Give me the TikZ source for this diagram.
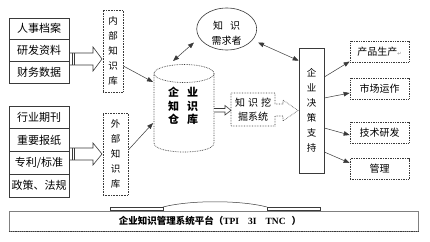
\documentclass[tikz,border=0pt]{standalone}
\usepackage{fontspec}
\setmainfont{Noto Sans CJK SC}
\newfontfamily\latinserif{Liberation Serif}
\newfontfamily\symfont{DejaVu Sans}
\usetikzlibrary{arrows.meta,shapes.geometric}
\definecolor{linec}{HTML}{3A3A3A}
\tikzset{
  lbox/.style={draw=linec, line width=0.6pt, minimum width=60pt, minimum height=21.67pt, inner sep=0pt, font=\fontsize{11}{11}\selectfont},
  lbox2/.style={lbox, minimum height=22.75pt},
  vbox/.style={draw=linec, densely dotted, line width=0.6pt, inner sep=0pt, align=center, font=\fontsize{9.5}{15}\selectfont},
  rbox/.style={draw=linec, densely dotted, line width=0.7pt, minimum width=59pt, minimum height=21pt, inner sep=0pt, font=\fontsize{10}{10}\selectfont},
  conn/.style={draw=linec, line width=0.5pt, -{Triangle[length=6pt,width=4.5pt]}},
  dconn/.style={draw=linec, line width=0.5pt, {Triangle[length=6pt,width=4.5pt]}-{Triangle[length=6pt,width=4.5pt]}},
  hollow/.style={draw=linec, line width=0.6pt, fill=white},
}
\begin{document}
\begin{tikzpicture}[x=1pt,y=-1pt]
\useasboundingbox (0,0) rectangle (430,241);
\fill[white] (0,0) rectangle (430,241);

% left stacked boxes
\node[lbox] (a1) at (39,28.8) {人事档案};
\node[lbox] (a2) at (39,50.5) {研发资料};
\node[lbox] (a3) at (39,72.2) {财务数据};
\node[lbox2] (b1) at (39,117.4) {行业期刊};
\node[lbox2] (b2) at (39,140.1) {重要报纸};
\node[lbox2] (b3) at (39,162.9) {专利/标准};
\node[lbox2] (b4) at (39,185.6) {政策、法规};

% hollow arrows to knowledge bases
\draw[hollow] (70,53) -- (93,53) -- (93,47) -- (102,59) -- (93,71) -- (93,65) -- (70,65);
\draw[linec, line width=0.5pt] (72.5,53) -- (72.5,65) (74.5,53) -- (74.5,65);
\draw[hollow] (70,148) -- (93,148) -- (93,143) -- (102,154) -- (93,165) -- (93,160) -- (70,160);
\draw[linec, line width=0.5pt] (72.5,148) -- (72.5,160) (74.5,148) -- (74.5,160);

% knowledge bases
\node[vbox, minimum width=20pt, minimum height=82pt] (inbox) at (113,51) {内\\部\\知\\识\\库};
\node[vbox, minimum width=25pt, minimum height=82pt] (outbox) at (115.5,154) {外\\部\\知\\识\\库};

% cylinder
\draw[linec, densely dotted, line width=0.7pt, fill=white] (154,73.5) -- (154,143) .. controls (154,155) and (214,155) .. (214,143) -- (214,73.5);
\draw[linec, densely dotted, line width=0.7pt] (184,73.5) ellipse [x radius=30, y radius=9];
\node[align=center, inner sep=0pt, font=\bfseries\fontsize{11}{13.5}\selectfont] (cyl) at (183,106) {企\hspace{8pt}业\\知\hspace{8pt}识\\仓\hspace{8pt}库};
\coordinate (cA) at (153,82);
\coordinate (cB) at (153,123);
\coordinate (cT) at (173,61);

% knowledge requester ellipse
\node[ellipse, draw=linec, line width=0.6pt, minimum width=60pt, minimum height=42pt, inner sep=0pt,
  label={[align=center, font=\fontsize{10}{14.5}\selectfont, yshift=-4pt]center:知\hspace{7pt}识\\需求者}] (need) at (226.7,29) {};
\coordinate (nL) at (194,42.5);
\coordinate (nR) at (258,42.5);

% mining system
\draw[hollow] (214,108.5) -- (225,108.5) -- (225,105.5) -- (231,110.3) -- (225,115) -- (225,112) -- (214,112);
\draw[linec, line width=0.6pt, densely dotted] (231,93) -- (275,93) -- (275,104) -- (283,104) -- (283,100) -- (298,110.5) -- (283,121) -- (283,116) -- (275,116) -- (275,126) -- (231,126) -- cycle;
\node[align=center, inner sep=0pt, font=\fontsize{10}{14}\selectfont] (mine) at (253,110) {知\hspace{3pt}识\hspace{3pt}挖\\掘系统};

% decision support
\node[draw=linec, line width=0.6pt, minimum width=25pt, minimum height=125pt, inner sep=0pt, align=center,
  font=\fontsize{9.5}{15}\selectfont] (dec) at (311.5,110.5) {企\\业\\决\\策\\支\\持};

% right boxes
\node[rbox] (p1) at (379.5,51.5) {产品生产{\symfont\fontsize{5}{5}\selectfont\color{gray}↵}};
\node[rbox] (p2) at (379.5,88.5) {市场运作};
\node[rbox] (p3) at (379.5,132.5) {技术研发};
\node[rbox] (p4) at (379.5,169) {管理\hspace{18pt}};

% connectors
\draw[conn] ([yshift=-15pt]inbox.east) -- (cA);
\draw[conn] ([yshift=4pt]outbox.east) -- (cB);
\draw[dconn] (nL) -- (cT);
\draw[dconn] (nR) -- ([yshift=-13pt]dec.north west);
\draw[conn] ([yshift=33.5pt]dec.east) -- ([yshift=-10pt]p1.west);
\draw[conn] ([yshift=12.5pt]dec.east) -- ([yshift=-4.5pt]p2.west);
\draw[conn] ([yshift=-17.5pt]dec.east) -- ([yshift=-2.5pt]p3.west);
\draw[conn] ([yshift=-41.5pt]dec.east) -- ([yshift=6pt]p4.west);

% platform
\draw[linec, line width=0.5pt] (110,207) rectangle (163,210.5);
\draw[linec, line width=0.5pt] (267,207) rectangle (320,210.5);
\draw[linec, line width=0.5pt] (163,207) .. controls (190,200) and (240,200) .. (267,207);
\node[draw=gray, line width=0.5pt, minimum width=409pt, minimum height=20pt, inner sep=0pt] (plat) at (213.5,221) {};
\draw[linec, line width=1.2pt, densely dotted] (plat.south west) -- (plat.south east);
\node[font=\bfseries\fontsize{9.5}{10}\selectfont, inner sep=0pt] (platt) at (210,221) {企业知识管理系统平台（{\latinserif TPI\hspace{9pt}3I\hspace{9pt}TNC\hspace{6pt}}）};
\end{tikzpicture}
\end{document}
